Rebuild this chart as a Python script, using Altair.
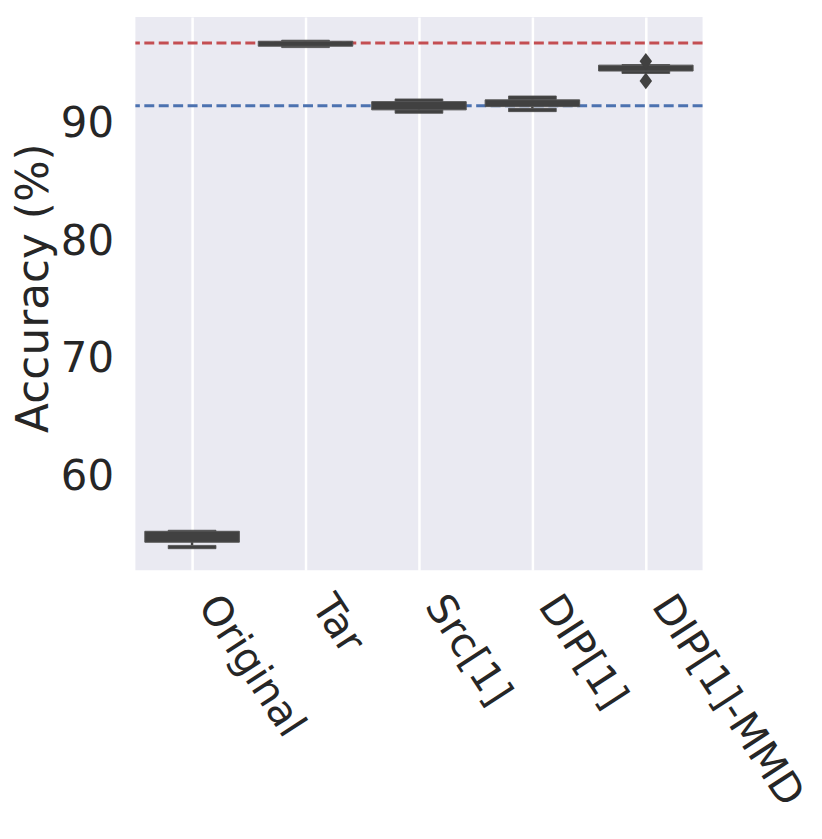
import altair as alt
import pandas as pd

categories = ["Original", "Tar", "Src[1]", "DIP[1]", "DIP[1]-MMD"]
# widest box (middle letter-value box)
mid_lo = [54.43, 96.57, 91.16, 91.44, 94.46]
mid_hi = [55.36, 96.99, 91.86, 92.01, 94.96]
# narrower outer letter-value boxes (lower and upper)
low_lo = [53.88, 96.45, 90.87, 91.01, 94.25]
low_hi = [54.16, 96.57, 91.16, 91.29, 94.46]
up_lo = [55.23, 96.99, 91.86, 92.05, 94.96]
up_hi = [55.45, 97.08, 92.09, 92.34, 95.01]
outlier_cat = ["DIP[1]-MMD", "DIP[1]-MMD"]
outlier_val = [95.28, 93.62]
ref_values = [96.85, 91.52]
ref_colors = ["#c44e52", "#4c72b0"]
y_ticks = [60, 70, 80, 90]

FONT = "DejaVu Sans"
TXT = "#262626"
BOX = "#414141"

df = pd.DataFrame({"cat": categories, "mid_lo": mid_lo, "mid_hi": mid_hi,
                   "low_lo": low_lo, "low_hi": low_hi, "up_lo": up_lo, "up_hi": up_hi})
out = pd.DataFrame({"cat": outlier_cat, "v": outlier_val})
refs = pd.DataFrame({"v": ref_values, "c": ref_colors})

yscale = alt.Scale(domain=[52.05, 99.05], nice=False, zero=False)
xscale = alt.Scale(domain=categories, paddingInner=0, paddingOuter=0)

xaxis = alt.Axis(title=None, labelAngle=57, labelAlign="left", labelBaseline="top",
                 labelFontSize=41, labelFont=FONT, labelColor=TXT, ticks=False,
                 domain=False, grid=True, gridColor="white", gridWidth=2.5,
                 bandPosition=0.5, labelPadding=18, labelOffset=32, labelLimit=0)
yaxis = alt.Axis(values=y_ticks, ticks=False, domain=False, grid=False,
                 labelFontSize=42, labelFont=FONT, labelColor=TXT, labelPadding=22,
                 title="Accuracy (%)", titleFontSize=44, titleFont=FONT,
                 titleFontWeight="normal", titleColor=TXT,
                 titleX=-101, titleY=272, titleBaseline="middle", titleAlign="center",
                 titleAngle=-90)

X = alt.X("cat:N", scale=xscale, sort=categories, axis=xaxis)


def Y(field):
    return alt.Y(field, type="quantitative", scale=yscale, axis=yaxis)


ref_layer = alt.Chart(refs).mark_rule(strokeWidth=3, strokeDash=[10, 4.5]).encode(
    y=Y("v"),
    color=alt.Color("c:N", scale=None),
)

stem = alt.Chart(df).mark_rule(color=BOX, strokeWidth=2.5).encode(
    x=X, y=Y("low_hi"), y2="up_lo"
)

low_box = alt.Chart(df).mark_bar(fill=BOX, stroke="#4d4d4d", strokeWidth=0.8, size=48).encode(
    x=X, y=Y("low_lo"), y2="low_hi"
)
up_box = alt.Chart(df).mark_bar(fill=BOX, stroke="#4d4d4d", strokeWidth=0.8, size=48).encode(
    x=X, y=Y("up_lo"), y2="up_hi"
)

wide = alt.Chart(df).mark_bar(fill=BOX, stroke="#555555", strokeWidth=1, size=95).encode(
    x=X, y=Y("mid_lo"), y2="mid_hi"
)

outl = alt.Chart(out).mark_point(shape="M0,-1L0.75,0L0,1L-0.75,0Z", filled=True,
                                 size=280, color=BOX, opacity=1).encode(
    x=X, y=Y("v")
)

chart = alt.layer(ref_layer, stem, low_box, up_box, wide, outl).properties(
    width=570, height=556, autosize="none",
    padding={"left": 128, "top": 7, "right": 112, "bottom": 259},
).configure_view(fill="#eaeaf2", stroke=None)

chart.save("out.html", embed_options={"renderer": "svg", "actions": False})
